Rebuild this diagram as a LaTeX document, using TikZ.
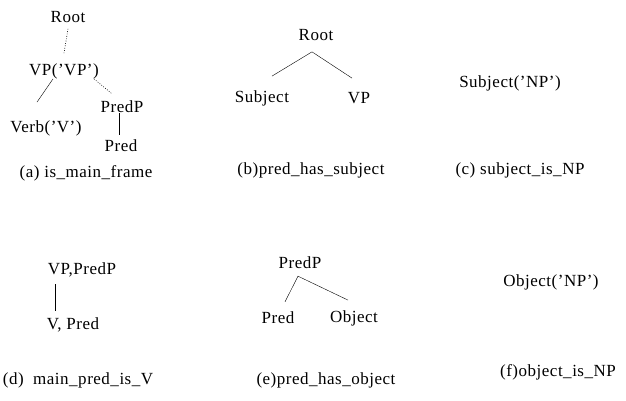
\documentclass[tikz,border=0pt]{standalone}
\usepackage{fontspec}
\setmainfont{Liberation Serif}[LetterSpace=3]
\usepackage{tikz}

\begin{document}
\begin{tikzpicture}[
    x=1pt, y=-1pt,
    word/.style={
      inner sep=0pt,
      font=\fontsize{17}{20}\selectfont
    },
    subcap/.style={word},
    branch/.style={thin},
    dotbranch/.style={line width=0.6pt, dash pattern=on 0.8pt off 1.6pt}
  ]
    \useasboundingbox (0,0) rectangle (626,400);

    % (a) is_main_frame
    \node[word] (root-a) at (68,17) {Root};
    \node[word] (vp-a) at (64,71) {VP('VP')};
    \node[word] (verb-a) at (46,128) {Verb('V')};
    \node[word] (predp-a) at (122,107) {PredP};
    \node[word] (pred-a) at (121,146) {Pred};
    \node[subcap] (cap-a) at (86,173) {(a) is\_main\_frame};

    \draw[dotbranch] ([yshift=-6pt]root-a.south) -- ([yshift=10pt]vp-a.north);
    \draw[branch] ([xshift=-11pt]vp-a.south) -- ([xshift=-9pt,yshift=18pt]verb-a.north);
    \draw[dotbranch] ([xshift=-5pt]vp-a.south east) -- ([xshift=-10pt,yshift=7pt]predp-a.north);
    \draw[branch] ([xshift=-3pt]predp-a.south) -- ([xshift=-2pt,yshift=5pt]pred-a.north);

    % (b) pred_has_subject
    \node[word] (root-b) at (316,35) {Root};
    \node[word] (subject-b) at (262,98) {Subject};
    \node[word] (vp-b) at (359,98) {VP};
    \node[subcap] (cap-b) at (311,170) {(b)pred\_has\_subject};

    \draw[branch] ([xshift=10pt,yshift=14pt]subject-b.north)
      -- ([xshift=-4pt,yshift=-11pt]root-b.south)
      -- ([xshift=-7pt,yshift=14pt]vp-b.north);

    % (c) subject_is_NP
    \node[word] (subject-c) at (510,83) {Subject('NP')};
    \node[subcap] (cap-c) at (520,170) {(c) subject\_is\_NP};

    % (d) main_pred_is_V
    \node[word] (vp-d) at (82,270) {VP,PredP};
    \node[word] (v-d) at (73,325) {V, Pred};
    \node[subcap] (cap-d) at (78,380) {(d)~~main\_pred\_is\_V};

    \draw[branch] ([xshift=-27pt,yshift=-7pt]vp-d.south) -- ([xshift=-18pt,yshift=7pt]v-d.north);

    % (e) pred_has_object
    \node[word] (predp-e) at (300,263) {PredP};
    \node[word] (pred-e) at (278,318) {Pred};
    \node[word] (object-e) at (354,318) {Object};
    \node[subcap] (cap-e) at (326,380) {(e)pred\_has\_object};

    \draw[branch] ([xshift=7pt,yshift=10pt]pred-e.north)
      -- ([xshift=-2pt,yshift=-7pt]predp-e.south)
      -- ([xshift=-6pt,yshift=10pt]object-e.north);

    % (f) object_is_NP
    \node[word] (object-f) at (551,282) {Object('NP')};
    \node[subcap] (cap-f) at (558,372) {(f)object\_is\_NP};
  \end{tikzpicture}
\end{document}
